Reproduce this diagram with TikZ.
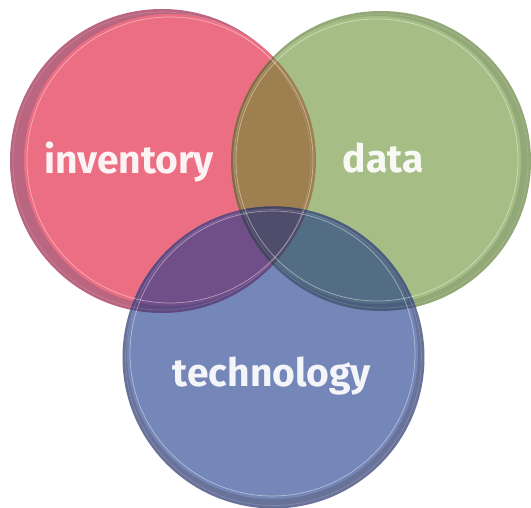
\documentclass[tikz,border=0pt]{standalone}
\usepackage{fontspec}
\setmainfont{Fira Sans}
\definecolor{invface}{HTML}{EC6E82}
\definecolor{invrim}{HTML}{BA6680}
\definecolor{datface}{HTML}{A6BE86}
\definecolor{datrim}{HTML}{93A877}
\definecolor{tecface}{HTML}{7587B8}
\definecolor{tecrim}{HTML}{69739A}
\definecolor{idface}{HTML}{9E7F50}
\definecolor{idrim}{HTML}{86694A}
\definecolor{itface}{HTML}{704E88}
\definecolor{itrim}{HTML}{5E4A80}
\definecolor{dtface}{HTML}{536D85}
\definecolor{dtrim}{HTML}{4A5D7C}
\definecolor{allface}{HTML}{504C6C}
\definecolor{allrim}{HTML}{46435F}
% circle outlines (rim = dark edge, face = top of the disc)
\newcommand{\invRim}{(162,347) circle[radius=152]}
\newcommand{\invFace}{(170,348) circle[radius=146]}
\newcommand{\datRim}{(381,347) circle[radius=150]}
\newcommand{\datFace}{(377,348) circle[radius=144]}
\newcommand{\tecRim}{(273.5,150.5) circle[radius=151]}
\newcommand{\tecFace}{(272.5,154.5) circle[radius=145.5]}

\begin{document}
\begin{tikzpicture}[x=1pt, y=1pt]
      % Define styles
      \tikzset{
        shine/.style={white, opacity=0.45, line width=0.7pt},
        streak/.style={white, opacity=0.18, line width=0.6pt},
        label/.style={text=white, text opacity=0.92, anchor=base,
          font=\fontsize{39}{44}\selectfont\bfseries}
      }
      \useasboundingbox (0,0) rectangle (531,508);
      % Single discs
      \fill[invrim] \invRim;
      \fill[invface] \invFace;
      \fill[datrim] \datRim;
      \fill[datface] \datFace;
      \fill[tecrim] \tecRim;
      \fill[tecface] \tecFace;
      % inventory and data
      \begin{scope}
        \clip \invRim;
        \fill[idrim] \datRim;
      \end{scope}
      \begin{scope}
        \clip \invFace;
        \fill[idface] \datFace;
      \end{scope}
      % inventory and technology
      \begin{scope}
        \clip \invRim;
        \fill[itrim] \tecRim;
      \end{scope}
      \begin{scope}
        \clip \invFace;
        \fill[itface] \tecFace;
      \end{scope}
      % data and technology
      \begin{scope}
        \clip \datRim;
        \fill[dtrim] \tecRim;
      \end{scope}
      \begin{scope}
        \clip \datFace;
        \fill[dtface] \tecFace;
      \end{scope}
      % all three
      \begin{scope}
        \clip \invRim;
        \clip \datRim;
        \fill[allrim] \tecRim;
      \end{scope}
      \begin{scope}
        \clip \invFace;
        \clip \datFace;
        \fill[allface] \tecFace;
      \end{scope}
      % Highlights along the edges
      \draw[shine] (170,348) circle[radius=143];
      \draw[shine] (377,348) circle[radius=141];
      \draw[shine] (272.5,154.5) circle[radius=142.5];
      \draw[streak] (162,347) circle[radius=149];
      \draw[streak] (381,347) circle[radius=147];
      \draw[streak] (273.5,150.5) circle[radius=148];
      % Labels
      \node[label] (inventory) at (129,334) {inventory};
      \node[label] (data) at (383,335) {data};
      \node[label] (technology) at (272,121) {technology};
    \end{tikzpicture}
\end{document}
